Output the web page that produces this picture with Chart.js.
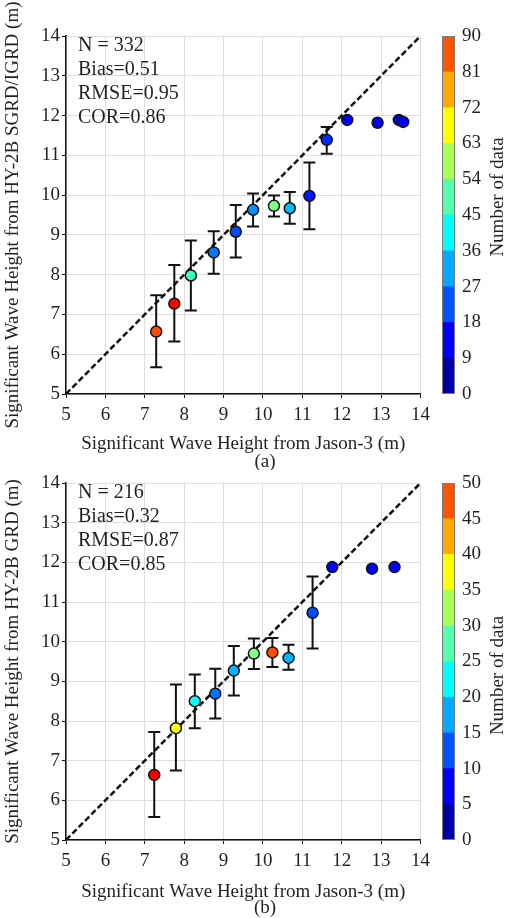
<!DOCTYPE html>
<html>
<head>
<meta charset="utf-8">
<title>HY-2B vs Jason-3 significant wave height</title>
<script src="https://cdn.jsdelivr.net/npm/chart.js@4.4.1/dist/chart.umd.min.js"></script>
<style>
  html, body { margin: 0; padding: 0; background: #fff; }
  #page { position: relative; width: 508px; height: 918px; overflow: hidden; }
  #page canvas { position: absolute; }
</style>
</head>
<body>
<div id="page">
  <canvas id="scatterA" width="436" height="470" style="left:0;top:0"></canvas>
  <canvas id="barA" width="72" height="470" style="left:436px;top:0"></canvas>
  <canvas id="scatterB" width="436" height="471" style="left:0;top:447px"></canvas>
  <canvas id="barB" width="72" height="471" style="left:436px;top:447px"></canvas>
</div>
<script>
// ---- values ----
var axisTicks = [5, 6, 7, 8, 9, 10, 11, 12, 13, 14];

// (a) HY-2B SGRD/IGRD against Jason-3
var jasonA = [7.29, 7.75, 8.17, 8.75, 9.31, 9.75, 10.28, 10.68, 11.18, 11.62, 12.14, 12.91, 13.45, 13.56];
var hyA = [6.57, 7.27, 7.98, 8.56, 9.08, 9.63, 9.73, 9.67, 9.98, 11.39, 11.89, 11.82, 11.89, 11.84];
var lowA = [5.67, 6.32, 7.10, 8.02, 8.43, 9.21, 9.46, 9.28, 9.14, 11.04, null, null, null, null];
var highA = [7.48, 8.24, 8.86, 9.09, 9.75, 10.04, 9.99, 10.08, 10.82, 11.71, null, null, null, null];
var countA = [72, 79, 39, 22, 18, 24, 45, 28, 13, 15, 11, 11, 11, 11];
var statsA = ['N = 332', 'Bias=0.51', 'RMSE=0.95', 'COR=0.86'];
var cbTicksA = [0, 9, 18, 27, 36, 45, 54, 63, 72, 81, 90];

// (b) HY-2B GRD against Jason-3
var jasonB = [7.24, 7.79, 8.27, 8.79, 9.26, 9.77, 10.24, 10.65, 11.26, 11.76, 12.77, 13.34];
var hyB = [6.64, 7.82, 8.50, 8.69, 9.27, 9.70, 9.73, 9.59, 10.73, 11.88, 11.84, 11.88];
var lowB = [5.58, 6.75, 7.82, 8.06, 8.64, 9.31, 9.36, 9.29, 9.83, null, null, null];
var highB = [7.72, 8.92, 9.17, 9.32, 9.89, 10.08, 10.09, 9.92, 11.64, null, null, null];
var countB = [44, 31, 19, 12, 15, 25, 40, 15, 10, 6, 6, 6];
var statsB = ['N = 216', 'Bias=0.32', 'RMSE=0.87', 'COR=0.85'];
var cbTicksB = [0, 5, 10, 15, 20, 25, 30, 35, 40, 45, 50];

// ---- styling ----
var FONT = 'Liberation Serif';
var INK = '#231f20';
var jet10 = ['#0000aa', '#0000ff', '#0055ff', '#00aaff', '#00ffff',
             '#55ffaa', '#aaff55', '#ffff00', '#ffaa00', '#ff5500'];

// matlab style jet, t in [0,1]
function jet(t) {
  var c = function (v) { return Math.round(255 * Math.max(0, Math.min(1, v))); };
  var r = Math.min(4 * t - 1.5, -4 * t + 4.5);
  var g = Math.min(4 * t - 0.5, -4 * t + 3.5);
  var b = Math.min(4 * t + 0.5, -4 * t + 2.5);
  return 'rgb(' + c(r) + ',' + c(g) + ',' + c(b) + ')';
}

function fixedTicks(list) {
  return function (scale) {
    scale.ticks = list.map(function (v) { return { value: v }; });
  };
}

var errorBars = {
  id: 'errorBars',
  beforeDatasetsDraw: function (chart, args, opts) {
    var xs = chart.scales.x, ys = chart.scales.y, ctx = chart.ctx;
    var pts = chart.data.datasets[0].data;
    ctx.save();
    ctx.strokeStyle = '#111';
    ctx.lineWidth = 2;
    for (var i = 0; i < pts.length; i++) {
      if (opts.low[i] == null) continue;
      var px = xs.getPixelForValue(pts[i].x);
      var y0 = ys.getPixelForValue(opts.low[i]);
      var y1 = ys.getPixelForValue(opts.high[i]);
      ctx.beginPath();
      ctx.moveTo(px, y0); ctx.lineTo(px, y1);
      ctx.moveTo(px - 6, y0); ctx.lineTo(px + 6, y0);
      ctx.moveTo(px - 6, y1); ctx.lineTo(px + 6, y1);
      ctx.stroke();
    }
    ctx.restore();
  }
};

var panelText = {
  id: 'panelText',
  afterDraw: function (chart, args, opts) {
    var ctx = chart.ctx, area = chart.chartArea;
    ctx.save();
    ctx.fillStyle = INK;
    ctx.textBaseline = 'middle';
    ctx.font = '20px "' + FONT + '"';
    ctx.textAlign = 'left';
    opts.lines.forEach(function (s, i) {
      ctx.fillText(s, area.left + 12, area.top + 10 + 24 * i);
    });
    ctx.font = '19px "' + FONT + '"';
    ctx.textAlign = 'center';
    ctx.fillText(opts.panel, 265, area.bottom + 68);
    ctx.restore();
  }
};

// frame plus the rotated "Number of data" label
var colorbarDeco = {
  id: 'colorbarDeco',
  afterDraw: function (chart, args, opts) {
    var ctx = chart.ctx, area = chart.chartArea;
    ctx.save();
    ctx.strokeStyle = '#7a7a7a';
    ctx.lineWidth = 1;
    ctx.strokeRect(area.left + 0.5, area.top + 0.5, area.right - area.left - 1, area.bottom - area.top - 1);
    ctx.translate(62, (area.top + area.bottom) / 2 + opts.shift);
    ctx.rotate(-Math.PI / 2);
    ctx.fillStyle = INK;
    ctx.font = '19px "' + FONT + '"';
    ctx.textAlign = 'center';
    ctx.textBaseline = 'middle';
    ctx.fillText('Number of data', 0, 0);
    ctx.restore();
  }
};

function buildScatter(id, xs, ys, low, high, counts, cmax, stats, yTitle, panel, axisH) {
  var pts = xs.map(function (x, i) { return { x: x, y: ys[i] }; });
  var fills = counts.map(function (n) { return jet(n / cmax); });
  var tickFont = { family: FONT, size: 19 };
  return new Chart(document.getElementById(id), {
    type: 'scatter',
    data: {
      datasets: [{
        data: pts,
        pointRadius: 5.5,
        pointBackgroundColor: fills,
        pointBorderColor: '#111',
        pointBorderWidth: 1.5
      }, {
        type: 'line',
        data: [{ x: axisTicks[0], y: axisTicks[0] }, { x: axisTicks[axisTicks.length - 1], y: axisTicks[axisTicks.length - 1] }],
        borderColor: '#111',
        borderWidth: 2.5,
        borderDash: [6, 3],
        pointRadius: 0,
        fill: false
      }]
    },
    options: {
      responsive: false,
      animation: false,
      layout: { padding: { top: 36, right: 11, left: 0, bottom: 0 } },
      plugins: {
        legend: { display: false },
        tooltip: { enabled: false },
        errorBars: { low: low, high: high },
        panelText: { lines: stats, panel: panel }
      },
      scales: {
        x: {
          type: 'linear', min: 5, max: 14,
          afterBuildTicks: fixedTicks(axisTicks),
          afterFit: function (s) { s.height = axisH; },
          ticks: { padding: 6, color: INK, font: tickFont },
          grid: { color: '#dedede', tickColor: '#111', tickLength: 4 },
          border: { color: '#111', width: 1.5 },
          title: { display: true, text: 'Significant Wave Height from Jason-3 (m)', color: INK, font: tickFont, padding: { top: 0, bottom: 15 } }
        },
        y: {
          type: 'linear', min: 5, max: 14,
          afterBuildTicks: fixedTicks(axisTicks),
          afterFit: function (s) { s.width = 66; },
          ticks: { padding: 2, color: INK, font: tickFont },
          grid: { color: '#dedede', tickColor: '#111', tickLength: 4 },
          border: { color: '#111', width: 1.5 },
          title: { display: true, text: yTitle, color: INK, font: tickFont, padding: { top: 2, bottom: 0 } }
        }
      }
    },
    plugins: [errorBars, panelText]
  });
}

function buildColorbar(id, ticks, bottomPad, labelShift) {
  var step = ticks[1] - ticks[0];
  return new Chart(document.getElementById(id), {
    type: 'bar',
    data: {
      labels: [''],
      datasets: jet10.map(function (c) {
        return { data: [step], backgroundColor: c, borderWidth: 0, categoryPercentage: 1, barPercentage: 1 };
      })
    },
    options: {
      responsive: false,
      animation: false,
      layout: { padding: { left: 6, top: 36, right: 0, bottom: bottomPad } },
      plugins: { legend: { display: false }, tooltip: { enabled: false }, colorbarDeco: { shift: labelShift } },
      scales: {
        x: { display: false, stacked: true },
        y: {
          stacked: true, position: 'right',
          min: ticks[0], max: ticks[ticks.length - 1],
          afterBuildTicks: fixedTicks(ticks),
          afterFit: function (s) { s.width = 53; },
          grid: { display: false, drawTicks: false },
          border: { display: false },
          ticks: { padding: 7, color: INK, font: { family: FONT, size: 19 } }
        }
      }
    },
    plugins: [colorbarDeco]
  });
}

buildScatter('scatterA', jasonA, hyA, lowA, highA, countA, 90, statsA,
  'Significant Wave Height from HY-2B SGRD/IGRD (m)', '(a)', 76);
buildColorbar('barA', cbTicksA, 76, -18);
buildScatter('scatterB', jasonB, hyB, lowB, highB, countB, 50, statsB,
  'Significant Wave Height from HY-2B GRD (m)', '(b)', 78);
buildColorbar('barB', cbTicksB, 78, 14);
</script>
</body>
</html>
